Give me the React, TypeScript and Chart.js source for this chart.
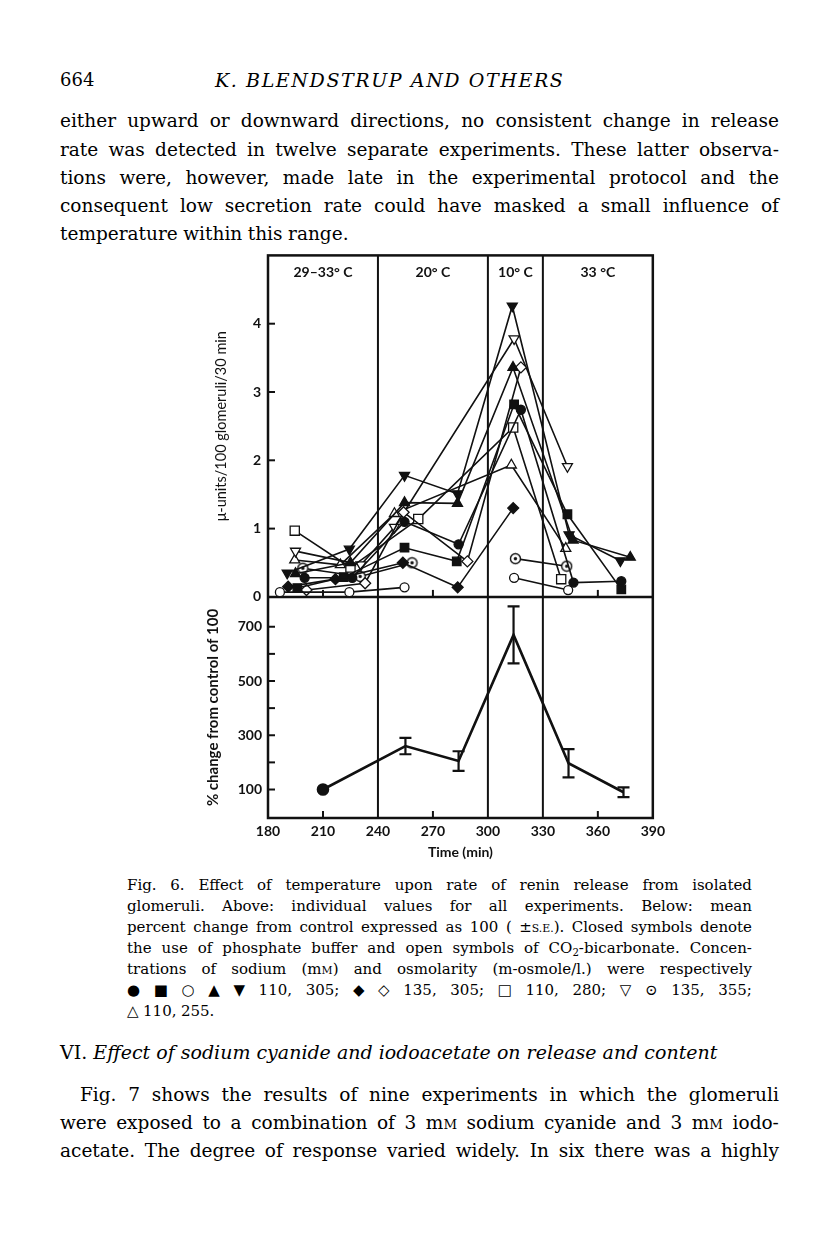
import React, { useEffect, useRef } from 'react';
import { Chart, registerables } from 'chart.js';

Chart.register(...registerables);

// ---------- axis / panel data ----------
const xTickValues = [180, 210, 240, 270, 300, 330, 360, 390];
const innerTickTimes = [210, 270, 360];
const regionBounds = [180, 240, 300, 330, 390];
const regionLabels = ['29–33° C', '20° C', '10° C', '33 °C'];
const upperTicks = [0, 1, 2, 3, 4];
const lowerTicks = [100, 200, 300, 400, 500, 600, 700];
const lowerLabelled = [100, 300, 500, 700];

// ---------- upper panel: individual experiments (time min, μ-units) ----------
const closedCircleTime = [200, 226, 254.5, 284, 318, 346.7, 372.8];
const closedCircleValue = [0.28, 0.28, 1.1, 0.77, 2.74, 0.21, 0.23];
const closedSquareTime = [196, 221.3, 254.5, 283, 314.3, 343.4, 372.8];
const closedSquareValue = [0.13, 0.29, 0.72, 0.52, 2.82, 1.21, 0.11];
const openCircleTime = [186.5, 224.4, 254.5, 284, 314.3, 343.8];
const openCircleValue = [0.07, 0.07, 0.14, null, 0.28, 0.1];
const closedUpTime = [195, 225, 254.5, 283.4, 313.7, 346.5, 377.7];
const closedUpValue = [0.34, 0.5, 1.38, 1.37, 3.36, 0.83, 0.58];
const closedDownTime = [190.5, 224.4, 254.5, 283.4, 313.3, 344.3, 372.3];
const closedDownValue = [0.35, 0.7, 1.78, 1.51, 4.26, 0.91, 0.53];
const closedDiamondTime = [191, 216.8, 253.6, 283.5, 313.8];
const closedDiamondValue = [0.15, 0.26, 0.5, 0.14, 1.3];
const openDiamondTime = [201, 233, 254, 288.8, 318];
const openDiamondValue = [0.1, 0.2, 1.24, 0.52, 3.36];
const openSquareTime = [194.6, 225, 262, 313.8, 340];
const openSquareValue = [0.97, 0.43, 1.14, 2.48, 0.26];
const openDownTime = [195, 230.7, 249, 314.3, 343.4];
const openDownValue = [0.67, 0.47, 1.02, 3.78, 1.91];
const dottedCircleTime = [199, 230.3, 258.6, 285, 315, 343];
const dottedCircleValue = [0.42, 0.3, 0.5, null, 0.56, 0.45];
const openUpTime = [194.6, 219.5, 249, 312.8, 342.5];
const openUpValue = [0.54, 0.47, 1.22, 1.93, 0.71];

// ---------- lower panel: mean % change ± s.e. ----------
const meanTime = [210, 255, 284, 314, 344, 374];
const meanValue = [100, 260, 205, 670, 197, 90];
const meanSE = [0, 30, 36, 105, 52, 18];

const INK = '#111';
const CHART_FONT = 'Lato, "Open Sans", sans-serif';
const BODY_FONT = '"DejaVu Serif", serif';

function pts(t: number[], v: (number | null)[]) {
  return t.map((x, i) => ({ x, y: v[i] }));
}

function makeDottedCircle(): HTMLCanvasElement {
  const c = document.createElement('canvas');
  c.width = 13;
  c.height = 13;
  const g = c.getContext('2d')!;
  g.beginPath();
  g.arc(6.5, 6.5, 5, 0, Math.PI * 2);
  g.fillStyle = '#fff';
  g.fill();
  g.lineWidth = 1.4;
  g.strokeStyle = INK;
  g.stroke();
  g.beginPath();
  g.arc(6.5, 6.5, 1.7, 0, Math.PI * 2);
  g.fillStyle = INK;
  g.fill();
  return c;
}

const framePlugin = {
  id: 'frame',
  beforeDatasetsDraw(chart: any) {
    const { ctx, chartArea: a, scales } = chart;
    const x = scales.x;
    const yT = scales.yTop;
    const yB = scales.yBot;
    const mid = yT.getPixelForValue(0);
    const line = (x1: number, y1: number, x2: number, y2: number) => {
      ctx.beginPath();
      ctx.moveTo(x1, y1);
      ctx.lineTo(x2, y2);
      ctx.stroke();
    };
    ctx.save();
    ctx.strokeStyle = INK;
    ctx.lineWidth = 2.5;
    ctx.strokeRect(a.left, a.top, a.right - a.left, a.bottom - a.top);
    line(a.left, mid, a.right, mid);
    ctx.lineWidth = 2;
    regionBounds.slice(1, -1).forEach((b) => {
      const px = x.getPixelForValue(b);
      line(px, a.top, px, a.bottom);
    });
    innerTickTimes.forEach((t) => {
      const px = x.getPixelForValue(t);
      line(px, a.bottom, px, a.bottom - 7);
      line(px, mid, px, mid - 7);
    });
    upperTicks.slice(1).forEach((v) => {
      const py = yT.getPixelForValue(v);
      line(a.left, py, a.left + 7, py);
    });
    lowerTicks.forEach((v) => {
      const py = yB.getPixelForValue(v);
      line(a.left, py, a.left + 7, py);
    });
    ctx.fillStyle = INK;
    ctx.font = 'bold 14px ' + CHART_FONT;
    ctx.textAlign = 'center';
    ctx.textBaseline = 'middle';
    regionLabels.forEach((lab, i) => {
      const px = x.getPixelForValue((regionBounds[i] + regionBounds[i + 1]) / 2);
      ctx.fillText(lab, px, a.top + 17);
    });
    ctx.restore();
  },
  afterDatasetsDraw(chart: any) {
    const { ctx, scales } = chart;
    const x = scales.x;
    const yB = scales.yBot;
    ctx.save();
    ctx.strokeStyle = INK;
    ctx.lineWidth = 2.2;
    meanTime.forEach((t, i) => {
      const se = meanSE[i];
      if (!se) return;
      const px = x.getPixelForValue(t);
      const top = yB.getPixelForValue(meanValue[i] + se);
      const bot = yB.getPixelForValue(meanValue[i] - se);
      ctx.beginPath();
      ctx.moveTo(px, top);
      ctx.lineTo(px, bot);
      ctx.moveTo(px - 6, top);
      ctx.lineTo(px + 6, top);
      ctx.moveTo(px - 6, bot);
      ctx.lineTo(px + 6, bot);
      ctx.stroke();
    });
    ctx.restore();
  },
};

function FigureChart() {
  const ref = useRef<HTMLCanvasElement>(null);
  useEffect(() => {
    if (!ref.current) return;
    const dotted = makeDottedCircle();
    const series = [
      { t: closedCircleTime, v: closedCircleValue, ps: 'circle', r: 4.5, fill: true, rot: 0 },
      { t: closedSquareTime, v: closedSquareValue, ps: 'rect', r: 6, fill: true, rot: 0 },
      { t: openCircleTime, v: openCircleValue, ps: 'circle', r: 4.5, fill: false, rot: 0 },
      { t: closedUpTime, v: closedUpValue, ps: 'triangle', r: 5.8, fill: true, rot: 0 },
      { t: closedDownTime, v: closedDownValue, ps: 'triangle', r: 5.8, fill: true, rot: 180 },
      { t: closedDiamondTime, v: closedDiamondValue, ps: 'rectRot', r: 5.5, fill: true, rot: 0 },
      { t: openDiamondTime, v: openDiamondValue, ps: 'rectRot', r: 5.5, fill: false, rot: 0 },
      { t: openSquareTime, v: openSquareValue, ps: 'rect', r: 6.5, fill: false, rot: 0 },
      { t: openDownTime, v: openDownValue, ps: 'triangle', r: 5.8, fill: false, rot: 180 },
      { t: dottedCircleTime, v: dottedCircleValue, ps: dotted, r: 5, fill: false, rot: 0 },
      { t: openUpTime, v: openUpValue, ps: 'triangle', r: 5.8, fill: false, rot: 0 },
    ];
    const datasets: any[] = series.map((s) => ({
      data: pts(s.t, s.v),
      yAxisID: 'yTop',
      borderColor: INK,
      borderWidth: 1.6,
      pointStyle: s.ps,
      pointRadius: s.r,
      pointRotation: s.rot,
      pointBackgroundColor: s.fill ? INK : '#fff',
      pointBorderColor: INK,
      pointBorderWidth: 1.3,
      tension: 0,
      spanGaps: false,
      fill: false,
    }));
    datasets.push({
      data: pts(meanTime, meanValue),
      yAxisID: 'yBot',
      borderColor: INK,
      borderWidth: 2.6,
      pointStyle: 'circle',
      pointRadius: meanTime.map((_, i) => (i === 0 ? 5 : 0)),
      pointBackgroundColor: INK,
      pointBorderColor: INK,
      tension: 0,
      fill: false,
    });

    const tickFont = { family: CHART_FONT, size: 14, weight: 'bold' as const };
    const chart = new Chart(ref.current, {
      type: 'line',
      data: { datasets },
      options: {
        responsive: false,
        animation: false,
        devicePixelRatio: 1,
        layout: { padding: { top: 8, right: 14, left: 0, bottom: 0 } },
        plugins: { legend: { display: false }, tooltip: { enabled: false } },
        scales: {
          x: {
            type: 'linear',
            position: 'bottom',
            min: 180,
            max: 390,
            afterFit: (s: any) => {
              s.height = 52;
            },
            afterBuildTicks: (s: any) => {
              s.ticks = xTickValues.map((v) => ({ value: v }));
            },
            grid: { display: false, drawTicks: false },
            border: { display: false },
            ticks: { padding: 5, color: INK, font: tickFont, maxRotation: 0, autoSkip: false },
            title: {
              display: true,
              text: 'Time (min)',
              color: INK,
              font: { family: CHART_FONT, size: 14, weight: 'bold' },
              padding: { top: 0, bottom: 9 },
            },
          },
          yTop: {
            type: 'linear',
            position: 'left',
            stack: 'panels',
            stackWeight: 346,
            weight: 1,
            min: 0,
            max: 5,
            afterFit: (s: any) => {
              s.width = 78;
            },
            afterBuildTicks: (s: any) => {
              s.ticks = upperTicks.map((v) => ({ value: v }));
            },
            grid: { display: false, drawTicks: false },
            border: { display: false },
            ticks: { padding: 7, color: INK, font: tickFont },
            title: {
              display: true,
              text: 'μ-units/100 glomeruli/30 min',
              color: INK,
              font: { family: CHART_FONT, size: 14.5, weight: 'normal' },
              padding: { top: 23, bottom: 0 },
            },
          },
          yBot: {
            type: 'linear',
            position: 'left',
            stack: 'panels',
            stackWeight: 224,
            weight: 0,
            min: -5,
            max: 810,
            afterFit: (s: any) => {
              s.width = 78;
            },
            afterBuildTicks: (s: any) => {
              s.ticks = lowerTicks.map((v) => ({ value: v }));
            },
            grid: { display: false, drawTicks: false },
            border: { display: false },
            ticks: {
              padding: 6,
              color: INK,
              font: tickFont,
              callback: (v: any) => (lowerLabelled.includes(Number(v)) ? String(v) : ''),
            },
            title: {
              display: true,
              text: '% change from control of 100',
              color: INK,
              font: { family: CHART_FONT, size: 15, weight: 'bold' },
              padding: { top: 14, bottom: 0 },
            },
          },
        },
      } as any,
      plugins: [framePlugin],
    });
    return () => chart.destroy();
  }, []);
  return (
    <canvas
      ref={ref}
      width={480}
      height={630}
      style={{ position: 'absolute', left: 190, top: 240, width: 480, height: 630 }}
    />
  );
}

const SC = ({ children }: any) => <span style={{ fontSize: '0.72em' }}>{children}</span>;
const Sub = ({ children }: any) => (
  <span style={{ fontSize: '0.68em', position: 'relative', top: '0.35em', lineHeight: 0 }}>{children}</span>
);
const sp = (s: string) => s.split(' ');

function Line({ x, y, w, size, lh, words, justify = true, style }: any) {
  return (
    <div
      style={{
        position: 'absolute',
        left: x,
        top: y - lh / 2,
        width: w,
        height: lh,
        lineHeight: lh + 'px',
        fontSize: size,
        fontFamily: BODY_FONT,
        whiteSpace: 'nowrap',
        display: 'flex',
        justifyContent: justify ? 'space-between' : 'flex-start',
        columnGap: justify ? 0 : '0.3em',
        color: '#000',
        ...style,
      }}
    >
      {words.map((wd: any, i: number) => (
        <span key={i}>{wd}</span>
      ))}
    </div>
  );
}

const BODY = 18.5;
const CAP = 15;

export default function App() {
  const mM = (
    <>
      m<SC>M</SC>
    </>
  );
  return (
    <div style={{ position: 'absolute', left: 0, top: 0, width: 816, height: 1233, background: '#fff', overflow: 'hidden' }}>
      <Line x={60} y={80} w={60} size={18} lh={28} words={['664']} justify={false} />
      <Line
        x={215}
        y={80}
        w={360}
        size={19}
        lh={28}
        justify={false}
        words={['K. BLENDSTRUP AND OTHERS']}
        style={{ fontStyle: 'italic', letterSpacing: '1.6px' }}
      />
      <Line x={60} y={121} w={719} size={BODY} lh={28} words={sp('either upward or downward directions, no consistent change in release')} />
      <Line x={60} y={150} w={719} size={BODY} lh={28} words={sp('rate was detected in twelve separate experiments. These latter observa-')} />
      <Line x={60} y={178} w={719} size={BODY} lh={28} words={sp('tions were, however, made late in the experimental protocol and the')} />
      <Line x={60} y={206} w={719} size={BODY} lh={28} words={sp('consequent low secretion rate could have masked a small influence of')} />
      <Line x={60} y={234} w={719} size={BODY} lh={28} justify={false} words={sp('temperature within this range.')} />

      <FigureChart />

      <Line x={127} y={885} w={625} size={CAP} lh={21} words={sp('Fig. 6. Effect of temperature upon rate of renin release from isolated')} />
      <Line x={127} y={906} w={625} size={CAP} lh={21} words={sp('glomeruli. Above: individual values for all experiments. Below: mean')} />
      <Line
        x={127}
        y={927}
        w={625}
        size={CAP}
        lh={21}
        words={[
          ...sp('percent change from control expressed as 100'),
          '(',
          <>
            ±<SC>S.E.</SC>).
          </>,
          ...sp('Closed symbols denote'),
        ]}
      />
      <Line
        x={127}
        y={948}
        w={625}
        size={CAP}
        lh={21}
        words={[
          ...sp('the use of phosphate buffer and open symbols of'),
          <>
            CO<Sub>2</Sub>-bicarbonate.
          </>,
          'Concen-',
        ]}
      />
      <Line
        x={127}
        y={969}
        w={625}
        size={CAP}
        lh={21}
        words={[...sp('trations of sodium'), <>({mM})</>, ...sp('and osmolarity (m-osmole/l.) were respectively')]}
      />
      <Line
        x={127}
        y={990}
        w={625}
        size={CAP}
        lh={21}
        words={['●', '■', '○', '▲', '▼', '110,', '305;', '◆', '◇', '135,', '305;', '□', '110,', '280;', '▽', '⊙', '135,', '355;']}
      />
      <Line x={127} y={1011} w={625} size={CAP} lh={21} justify={false} words={['△', '110,', '255.']} />

      <div
        style={{
          position: 'absolute',
          left: 60,
          top: 1052 - 14,
          height: 28,
          lineHeight: '28px',
          fontSize: 19,
          fontFamily: BODY_FONT,
          whiteSpace: 'nowrap',
          color: '#000',
        }}
      >
        VI. <i>Effect of sodium cyanide and iodoacetate on release and content</i>
      </div>

      <Line x={80} y={1095} w={699} size={BODY} lh={28} words={sp('Fig. 7 shows the results of nine experiments in which the glomeruli')} />
      <Line
        x={60}
        y={1123}
        w={719}
        size={BODY}
        lh={28}
        words={[...sp('were exposed to a combination of 3'), mM, ...sp('sodium cyanide and 3'), mM, 'iodo-']}
      />
      <Line x={60} y={1151} w={719} size={BODY} lh={28} words={sp('acetate. The degree of response varied widely. In six there was a highly')} />
    </div>
  );
}
